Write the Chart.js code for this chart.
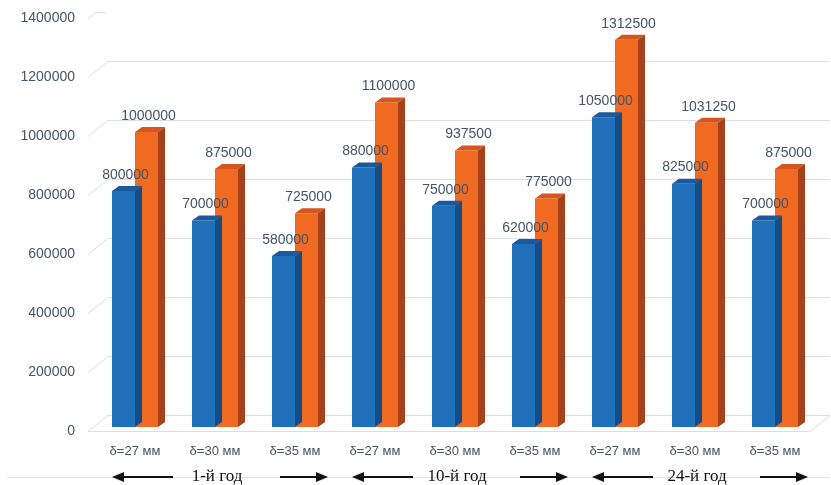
<!DOCTYPE html>
<html>
<head>
<meta charset="utf-8">
<script src="https://cdn.jsdelivr.net/npm/chart.js@4.4.0/dist/chart.umd.min.js"></script>
<style>
  html, body { margin: 0; padding: 0; background: #fff; }
  #wrap { width: 831px; height: 485px; }
</style>
</head>
<body>
<div id="wrap"><canvas id="myChart" width="831" height="485"></canvas></div>
<script>
const categories = ['δ=27 мм', 'δ=30 мм', 'δ=35 мм', 'δ=27 мм', 'δ=30 мм', 'δ=35 мм', 'δ=27 мм', 'δ=30 мм', 'δ=35 мм']
const blueValues = [800000, 700000, 580000, 880000, 750000, 620000, 1050000, 825000, 700000]
const orangeValues = [1000000, 875000, 725000, 1100000, 937500, 775000, 1312500, 1031250, 875000]
const groupLabels = ['1-й год', '10-й год', '24-й год']
const yTicks = [0, 200000, 400000, 600000, 800000, 1000000, 1200000]
const Y_MAX = 1400000

const DEPTH_X = 7
const DEPTH_Y = 5

// walls / gridlines with the little 3d diagonal at the left
const gridPlugin = {
  id: 'grid3d',
  beforeDatasetsDraw (chart) {
    let ctx = chart.ctx
    let y = chart.scales.y
    ctx.save()
    ctx.strokeStyle = '#d9dee7'
    ctx.lineWidth = 1
    yTicks.forEach(function (v) {
      let py = Math.round(y.getPixelForValue(v))
      ctx.beginPath()
      ctx.moveTo(88, py + 4.5)
      ctx.lineTo(108, py - 11.5)
      ctx.lineTo(830, py - 11.5)
      ctx.stroke()
    })
    // top one is cut off, only the stub shows
    let pt = Math.round(y.getPixelForValue(Y_MAX))
    ctx.beginPath()
    ctx.moveTo(88, pt + 4.5)
    ctx.lineTo(96, pt - 1.5)
    ctx.lineTo(106, pt - 1.5)
    ctx.stroke()

    let p0 = Math.round(y.getPixelForValue(0))
    ctx.beginPath()
    ctx.moveTo(88, p0 + 4.5)
    ctx.lineTo(810, p0 + 4.5)
    ctx.lineTo(830, p0 - 11.5)
    ctx.stroke()
    ctx.restore()
  }
}

// top and side faces of each bar
const barsPlugin = {
  id: 'bars3d',
  afterDatasetDraw (chart, args) {
    let ctx = chart.ctx
    let meta = args.meta
    let topColor = args.index == 0 ? '#19599c' : '#d4571d'
    let sideColor = args.index == 0 ? '#154d87' : '#a5421b'
    ctx.save()
    meta.data.forEach(function (bar) {
      let x0 = bar.x - bar.width / 2
      let x1 = bar.x + bar.width / 2
      let top = bar.y
      let base = bar.base
      ctx.fillStyle = topColor
      ctx.beginPath()
      ctx.moveTo(x0, top)
      ctx.lineTo(x1, top)
      ctx.lineTo(x1 + DEPTH_X, top - DEPTH_Y)
      ctx.lineTo(x0 + DEPTH_X, top - DEPTH_Y)
      ctx.closePath()
      ctx.fill()
      ctx.fillStyle = sideColor
      ctx.beginPath()
      ctx.moveTo(x1, top)
      ctx.lineTo(x1 + DEPTH_X, top - DEPTH_Y)
      ctx.lineTo(x1 + DEPTH_X, base - DEPTH_Y)
      ctx.lineTo(x1, base)
      ctx.closePath()
      ctx.fill()
    })
    ctx.restore()
  }
}

// value labels, group captions and arrows
const labelsPlugin = {
  id: 'labels3d',
  afterDraw (chart) {
    let ctx = chart.ctx
    let x = chart.scales.x
    ctx.save()
    ctx.font = '14px "Liberation Sans", Arial, sans-serif'
    ctx.fillStyle = '#44546a'
    ctx.textAlign = 'center'
    ctx.textBaseline = 'middle'
    chart.data.datasets.forEach(function (ds, i) {
      chart.getDatasetMeta(i).data.forEach(function (bar, j) {
        ctx.fillText(String(ds.data[j]), bar.x + 2, bar.y - 16)
      })
    })

    let ly = 477
    ctx.strokeStyle = '#dfe4ea'
    ctx.lineWidth = 1
    ctx.beginPath()
    ctx.moveTo(7, ly + 0.5)
    ctx.lineTo(830, ly + 0.5)
    ctx.stroke()

    ctx.font = '17px "Liberation Serif", "Times New Roman", serif'
    ctx.fillStyle = '#111'
    groupLabels.forEach(function (g, i) {
      let first = x.getPixelForValue(i * 3)
      let mid = x.getPixelForValue(i * 3 + 1)
      let last = x.getPixelForValue(i * 3 + 2)
      ctx.fillText(g, mid + 2, ly)
      drawArrow(ctx, mid - 42, first - 23, ly)
      drawArrow(ctx, mid + 65, last + 33, ly)
    })
    ctx.restore()
  }
}

function drawArrow (ctx, from, to, y) {
  let dir = to > from ? 1 : -1
  ctx.strokeStyle = '#111'
  ctx.fillStyle = '#111'
  ctx.lineWidth = 2
  ctx.beginPath()
  ctx.moveTo(from, y)
  ctx.lineTo(to - dir * 8, y)
  ctx.stroke()
  ctx.beginPath()
  ctx.moveTo(to, y)
  ctx.lineTo(to - dir * 12, y - 5)
  ctx.lineTo(to - dir * 12, y + 5)
  ctx.closePath()
  ctx.fill()
}

var ctx = document.getElementById('myChart').getContext('2d')
var myChart = new Chart(ctx, {
  type: 'bar',
  data: {
    labels: categories,
    datasets: [
      {
        data: blueValues,
        backgroundColor: '#1f6fba',
        borderWidth: 0,
        categoryPercentage: 0.575,
        barPercentage: 1.0,
      },
      {
        data: orangeValues,
        backgroundColor: '#f06a22',
        borderWidth: 0,
        categoryPercentage: 0.575,
        barPercentage: 1.0,
      },
    ]
  },
  options: {
    responsive: false,
    animation: false,
    layout: { padding: { top: 0, right: 16, left: 0, bottom: 0 } },
    plugins: {
      legend: { display: false },
      tooltip: { enabled: false },
    },
    scales: {
      x: {
        grid: { display: false, drawTicks: false },
        border: { display: false },
        ticks: {
          padding: 17,
          color: '#44546a',
          font: { family: '"Liberation Sans", Arial, sans-serif', size: 13 },
          maxRotation: 0,
          autoSkip: false,
        },
        afterFit (scale) { scale.height = 58 },
      },
      y: {
        min: 0,
        max: Y_MAX,
        grid: { display: false, drawTicks: false },
        border: { display: false },
        ticks: {
          stepSize: 200000,
          padding: 20,
          labelOffset: 4,
          color: '#44546a',
          font: { family: '"Liberation Sans", Arial, sans-serif', size: 14 },
          callback: function (v) { return String(v) },
        },
        afterFit (scale) {
          scale.width = 95
          scale.paddingTop = 14
          scale.paddingBottom = 0
        },
      }
    }
  },
  plugins: [gridPlugin, barsPlugin, labelsPlugin]
})
</script>
</body>
</html>
